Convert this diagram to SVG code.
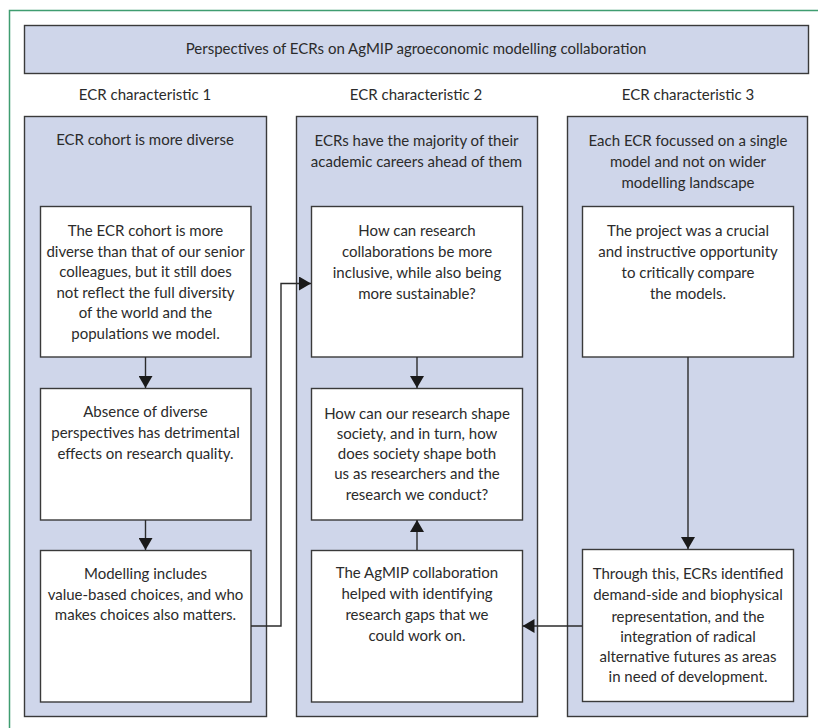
<svg xmlns="http://www.w3.org/2000/svg" width="818" height="728" viewBox="0 0 818 728">
<style>
text{font-family:Lato,"Open Sans","Noto Sans",sans-serif;font-size:15px;fill:#2b2b2b;text-anchor:middle}
.col{fill:#cfd6ea;stroke:#3a3a3a;stroke-width:1.4}
.box{fill:#ffffff;stroke:#3a3a3a;stroke-width:1.4}
.ln{fill:none;stroke:#2b2b2b;stroke-width:1.4}
</style>
<defs>
<marker id="ah" viewBox="0 0 12 14" refX="12" refY="7" markerWidth="12" markerHeight="14" markerUnits="userSpaceOnUse" orient="auto">
<path d="M0,0 L12,7 L0,14 Z" fill="#1a1a1a"/>
</marker>
</defs>
<path d="M9.5,728 V10.5 H818" fill="none" stroke="#3f9d70" stroke-width="1.5"/>
<g id="title">
<rect x="24.5" y="25.5" width="784" height="48" class="col"/>
<text x="416" y="54">Perspectives of ECRs on AgMIP agroeconomic modelling collaboration</text>
</g>
<g id="headings">
<text x="145" y="100">ECR characteristic 1</text>
<text x="416" y="100">ECR characteristic 2</text>
<text x="688" y="100">ECR characteristic 3</text>
</g>
<g id="col1">
<rect x="24.5" y="116.5" width="242" height="600" class="col"/>
<text x="145" y="145">ECR cohort is more diverse</text>
</g>
<g id="col2">
<rect x="296.5" y="116.5" width="241" height="600" class="col"/>
<text x="416.5" y="146">ECRs have the majority of their</text>
<text x="416.5" y="167">academic careers ahead of them</text>
</g>
<g id="col3">
<rect x="567.5" y="116.5" width="240" height="600" class="col"/>
<text x="688" y="145.5">Each ECR focussed on a single</text>
<text x="688" y="166.5">model and not on wider</text>
<text x="688" y="187.5">modelling landscape</text>
</g>
<g id="n1">
<rect x="40.5" y="206.5" width="210.5" height="150.5" class="box"/>
<text x="145.5" y="235.5">The ECR cohort is more</text>
<text x="145.5" y="256.5">diverse than that of our senior</text>
<text x="145.5" y="277">colleagues, but it still does</text>
<text x="145.5" y="297.5">not reflect the full diversity</text>
<text x="145.5" y="318">of the world and the</text>
<text x="145.5" y="338.5">populations we model.</text>
</g>
<g id="n2">
<rect x="40.5" y="388.5" width="210.5" height="131.5" class="box"/>
<text x="145.5" y="417">Absence of diverse</text>
<text x="145.5" y="437.5">perspectives has detrimental</text>
<text x="145.5" y="458.5">effects on research quality.</text>
</g>
<g id="n3">
<rect x="40.5" y="550.5" width="210.5" height="151.5" class="box"/>
<text x="145.5" y="578.5">Modelling includes</text>
<text x="145.5" y="599.5">value-based choices, and who</text>
<text x="145.5" y="620">makes choices also matters.</text>
</g>
<g id="n4">
<rect x="311.5" y="206.5" width="211" height="150.5" class="box"/>
<text x="417" y="235.5">How can research</text>
<text x="417" y="256.5">collaborations be more</text>
<text x="417" y="277.5">inclusive, while also being</text>
<text x="417" y="298.5">more sustainable?</text>
</g>
<g id="n5">
<rect x="311.5" y="388.5" width="211" height="131.5" class="box"/>
<text x="417" y="418.5">How can our research shape</text>
<text x="417" y="438.5">society, and in turn, how</text>
<text x="417" y="458.5">does society shape both</text>
<text x="417" y="479">us as researchers and the</text>
<text x="417" y="500">research we conduct?</text>
</g>
<g id="n6">
<rect x="311.5" y="550.5" width="211" height="151.5" class="box"/>
<text x="417" y="577.5">The AgMIP collaboration</text>
<text x="417" y="598.5">helped with identifying</text>
<text x="417" y="619.5">research gaps that we</text>
<text x="417" y="641">could work on.</text>
</g>
<g id="n7">
<rect x="582.5" y="206.5" width="211" height="150.5" class="box"/>
<text x="688" y="235.5">The project was a crucial</text>
<text x="688" y="256.5">and instructive opportunity</text>
<text x="688" y="277.5">to critically compare</text>
<text x="688" y="298.5">the models.</text>
</g>
<g id="n8">
<rect x="582.5" y="549.5" width="211" height="152" class="box"/>
<text x="688" y="578.5">Through this, ECRs identified</text>
<text x="688" y="600">demand-side and biophysical</text>
<text x="688" y="621.5">representation, and the</text>
<text x="688" y="641.5">integration of radical</text>
<text x="688" y="661.5">alternative futures as areas</text>
<text x="688" y="681.5">in need of development.</text>
</g>
<g id="connectors">
<path d="M145.5,357 V388" class="ln" marker-end="url(#ah)"/>
<path d="M145.5,520 V550" class="ln" marker-end="url(#ah)"/>
<path d="M251,626 H281 V283.5 H311" class="ln" marker-end="url(#ah)"/>
<path d="M417,357 V388" class="ln" marker-end="url(#ah)"/>
<path d="M417,550 V520" class="ln" marker-end="url(#ah)"/>
<path d="M688,357 V549" class="ln" marker-end="url(#ah)"/>
<path d="M582,626 H522.5" class="ln" marker-end="url(#ah)"/>
</g>
</svg>
